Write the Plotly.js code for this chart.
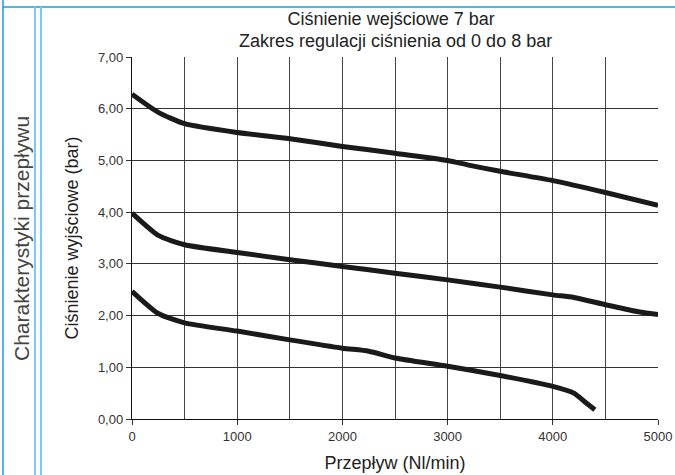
<!DOCTYPE html>
<html>
<head>
<meta charset="utf-8">
<script src="https://cdn.plot.ly/plotly-3.0.1.min.js"></script>
<style>
html,body{margin:0;padding:0;background:#fff;}
#chart{width:675px;height:475px;}
</style>
</head>
<body>
<div id="chart"></div>
<script>
// Data
var flowHigh = [0, 250, 500, 1000, 1500, 2000, 2500, 3000, 3200, 3500, 4000, 4500, 5000];
var pressHigh = [6.28, 5.93, 5.71, 5.54, 5.42, 5.27, 5.14, 5.00, 4.91, 4.79, 4.61, 4.38, 4.13];

var flowMid = [0, 250, 500, 1000, 1500, 2000, 2500, 3000, 3500, 4000, 4200, 4500, 4800, 5000];
var pressMid = [3.98, 3.55, 3.37, 3.22, 3.08, 2.95, 2.82, 2.69, 2.55, 2.40, 2.35, 2.21, 2.08, 2.02];

var flowLow = [0, 250, 500, 1000, 1500, 2000, 2250, 2500, 3000, 3500, 4000, 4200, 4300, 4400];
var pressLow = [2.47, 2.04, 1.86, 1.70, 1.53, 1.37, 1.31, 1.18, 1.02, 0.84, 0.63, 0.50, 0.34, 0.18];

var titleLine1 = 'Ciśnienie wejściowe 7 bar';
var titleLine2 = 'Zakres regulacji ciśnienia od 0 do 8 bar';
var xTitle = 'Przepływ (Nl/min)';
var yTitle = 'Ciśnienie wyjściowe (bar)';
var sideLabel = 'Charakterystyki przepływu';

var FONT = 'Liberation Sans, Arial, sans-serif';
var lineStyle = {color: '#1a1a1a', width: 5, shape: 'spline', smoothing: 0.6};

var traces = [
  {x: flowHigh, y: pressHigh, mode: 'lines', line: lineStyle, hoverinfo: 'skip'},
  {x: flowMid, y: pressMid, mode: 'lines', line: lineStyle, hoverinfo: 'skip'},
  {x: flowLow, y: pressLow, mode: 'lines', line: lineStyle, hoverinfo: 'skip'}
];

var layout = {
  width: 675, height: 475,
  margin: {l: 132, r: 17, t: 57, b: 56},
  paper_bgcolor: '#fff', plot_bgcolor: '#fff',
  showlegend: false,
  separators: ',.',
  font: {family: FONT, color: '#222', size: 13},
  title: {
    text: titleLine1,
    font: {family: FONT, size: 18, color: '#222'},
    x: 0.5795, xanchor: 'center', xref: 'container',
    y: 1 - 18.5/475, yanchor: 'middle', yref: 'container'
  },
  xaxis: {
    range: [0, 5000], dtick: 1000, tick0: 0, tickformat: 'd',
    showgrid: true, gridcolor: '#444', gridwidth: 1,
    minor: {dtick: 500, showgrid: true, gridcolor: '#444', gridwidth: 1},
    ticks: 'outside', ticklen: 5, tickcolor: '#333', tickwidth: 1,
    showline: true, linecolor: '#111', linewidth: 1.2,
    zeroline: false, fixedrange: true,
    tickfont: {family: FONT, size: 13, color: '#333'},
    title: {text: xTitle, font: {family: FONT, size: 18, color: '#222'}, standoff: 13}
  },
  yaxis: {
    range: [0, 7], dtick: 1, tick0: 0, tickformat: '.2f',
    showgrid: true, gridcolor: '#333', gridwidth: 1,
    ticks: 'outside', ticklen: 5, tickcolor: '#333', tickwidth: 1,
    showline: true, linecolor: '#111', linewidth: 1.2,
    zeroline: false, fixedrange: true,
    tickfont: {family: FONT, size: 13, color: '#333'},
    title: {text: yTitle, font: {family: FONT, size: 18, color: '#222'}, standoff: 14}
  },
  annotations: [
    {text: titleLine2, xref: 'paper', yref: 'paper', x: 0.5, y: 1 + (57 - 40.5)/362,
     xanchor: 'center', yanchor: 'middle', showarrow: false,
     font: {family: FONT, size: 18, color: '#222'}},
    {text: sideLabel, xref: 'paper', yref: 'paper', x: (21 - 132)/526, y: 1 - (239 - 57)/362,
     xanchor: 'center', yanchor: 'middle', showarrow: false, textangle: -90,
     font: {family: FONT, size: 21, color: '#444'}}
  ],
  shapes: [
    {type: 'line', xref: 'paper', yref: 'paper', x0: (3 - 132)/526, x1: (3 - 132)/526,
     y0: (419 - 0)/362, y1: (419 - 476)/362, line: {color: '#1f9bd7', width: 1.5}},
    {type: 'line', xref: 'paper', yref: 'paper', x0: (3 - 132)/526, x1: (676 - 132)/526,
     y0: (419 - 7)/362, y1: (419 - 7)/362, line: {color: '#1f9bd7', width: 1.5}},
    {type: 'line', xref: 'paper', yref: 'paper', x0: (35 - 132)/526, x1: (35 - 132)/526,
     y0: (419 - 7)/362, y1: (419 - 476)/362, line: {color: '#7ccbef', width: 2}},
    {type: 'line', xref: 'paper', yref: 'paper', x0: (41 - 132)/526, x1: (41 - 132)/526,
     y0: (419 - 7)/362, y1: (419 - 476)/362, line: {color: '#7ccbef', width: 2}}
  ]
};

Plotly.newPlot('chart', traces, layout, {staticPlot: true, displayModeBar: false});
</script>
</body>
</html>
